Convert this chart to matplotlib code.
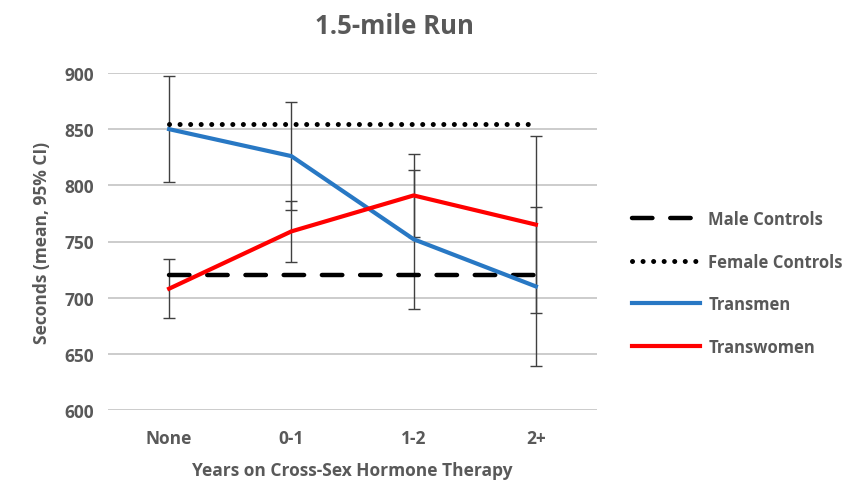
import numpy as np
import matplotlib.pyplot as plt

#------------Data----------------------#
categories = ["None", "0-1", "1-2", "2+"]
male_controls = [720, 720, 720, 720]
female_controls = [855, 855, 855, 855]
transmen = [850, 826, 752, 710]
transmen_err = [47, 48, 62, 71]
transwomen = [708, 759, 791, 765]
transwomen_err = [26, 27, 37, 79]

grey_text = "#595959"
plt.rcParams['font.family'] = ['Open Sans', 'DejaVu Sans']

#------------Figure----------------------#
fig = plt.figure(figsize=(8.68, 4.89), dpi=100)
ax = fig.add_axes([108/868, 1-411/489, (597-108)/868, (411-74)/489])

x = np.arange(len(categories))

ax.errorbar(x, transmen, yerr=transmen_err, fmt='none', ecolor='#404040',
            elinewidth=1.0, capsize=4, capthick=1.0, zorder=2)
ax.errorbar(x, transwomen, yerr=transwomen_err, fmt='none', ecolor='#404040',
            elinewidth=1.0, capsize=4, capthick=1.0, zorder=2)

ax.plot(x, male_controls, color='black', lw=3.2, dashes=(4.6, 4.0),
        dash_capstyle='round', label='Male Controls', zorder=3)
ax.plot(x, female_controls, color='black', lw=3.6, dashes=(0.01, 2.1),
        dash_capstyle='round', label='Female Controls', zorder=3)
ax.plot(x, transmen, color='#2878c4', lw=3.0, label='Transmen', zorder=4)
ax.plot(x, transwomen, color='#ff0000', lw=3.0, label='Transwomen', zorder=4)

ax.set_xlim(-0.5, 3.5)
ax.set_ylim(600, 900)
ax.set_yticks(np.arange(600, 901, 50))
ax.set_xticks(x)
ax.set_xticklabels(categories, fontweight='bold')
ax.yaxis.grid(True, color='#c8c8c8', lw=1.3)
ax.set_axisbelow(True)
for s in ax.spines.values():
    s.set_visible(False)
ax.tick_params(length=0, labelsize=12.5, colors=grey_text, pad=10)
ax.tick_params(axis='x', pad=14)
for lab in ax.get_yticklabels():
    lab.set_fontweight('bold')

ax.set_ylabel('Seconds (mean, 95% CI)', fontsize=12.5, color=grey_text,
              fontweight='bold', labelpad=10)
ax.set_xlabel('Years on Cross-Sex Hormone Therapy', fontsize=12.5,
              color=grey_text, fontweight='bold', labelpad=10)

fig.text(394/868, 1-26/489, '1.5-mile Run', fontsize=18.5, fontweight='bold',
         color=grey_text, ha='center', va='center')

leg = ax.legend(loc='center left', bbox_to_anchor=(1.04, 0.377), frameon=False,
                handlelength=4.1, handletextpad=0.5, labelspacing=1.47,
                fontsize=12, labelcolor=grey_text)
for t in leg.get_texts():
    t.set_fontweight('bold')

fig.savefig('out.png', dpi=100)
